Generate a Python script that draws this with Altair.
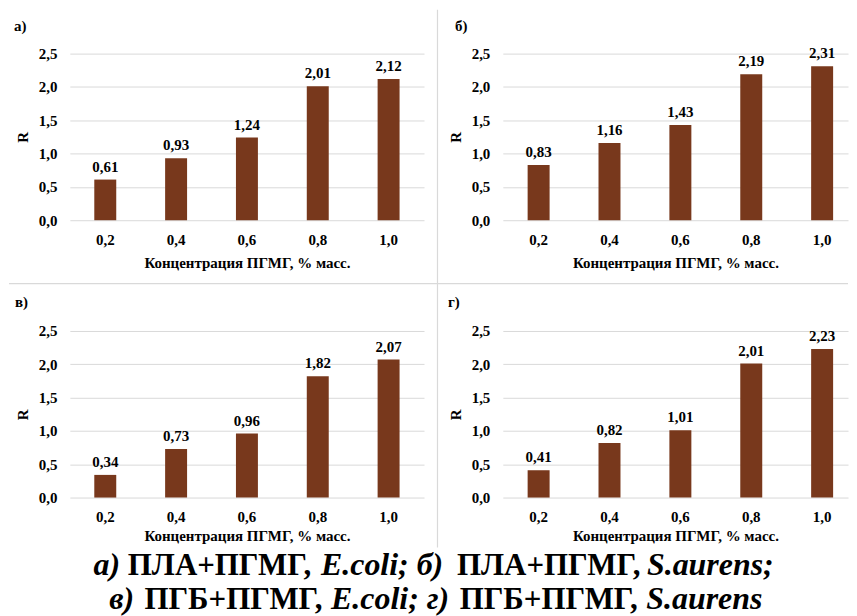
import altair as alt
import pandas as pd

# ---------------- data ----------------
categories = ["0,2", "0,4", "0,6", "0,8", "1,0"]
values_a = [0.61, 0.93, 1.24, 2.01, 2.12]
values_b = [0.83, 1.16, 1.43, 2.19, 2.31]
values_c = [0.34, 0.73, 0.96, 1.82, 2.07]
values_d = [0.41, 0.82, 1.01, 2.01, 2.23]
panel_labels = ["а)", "б)", "в)", "г)"]
x_title = "Концентрация ПГМГ, % масс."
y_title = "R"
y_ticks = [0.0, 0.5, 1.0, 1.5, 2.0, 2.5]

caption_line1 = ["а)", "ПЛА+ПГМГ,", "E.coli; б)", "ПЛА+ПГМГ,", "S.aurens;"]
caption_line2 = ["в)", "ПГБ+ПГМГ,", "E.coli; г)", "ПГБ+ПГМГ,", "S.aurens"]
caption_italic = [True, False, True, False, True]

# ---------------- style / layout ----------------
FONT = "Liberation Serif, Times New Roman, serif"
BAR = "#78381C"
GRID = "#D9D9D9"
H = 167
W_LEFT = 355
W_RIGHT = 346

# caption segment centres (relative to panel "в" plot origin)
cap_x1 = [37, 150, 313, 480, 642]
cap_x2 = [52, 164, 321, 480, 636]
cap_y = [245, 279]


def fmt(v):
    return f"{v:.2f}".replace(".", ",")


def panel(values, label, width, pad_outer, align, label_dx, label_dy, title_y, extras):
    df = pd.DataFrame({"c": categories, "v": values, "t": [fmt(v) for v in values]})
    x = alt.X(
        "c:N",
        sort=categories,
        title=x_title,
        scale=alt.Scale(paddingInner=0.69, paddingOuter=pad_outer, align=align),
        axis=alt.Axis(labelAngle=0, labelPadding=12, grid=False,
                      titleY=title_y, titleBaseline="middle"),
    )
    y = alt.Y(
        "v:Q",
        title=y_title,
        scale=alt.Scale(domain=[0, 2.5], nice=False, zero=True),
        axis=alt.Axis(values=y_ticks, grid=True, labelPadding=13,
                      labelExpr="replace(format(datum.value, '.1f'), '.', ',')",
                      titleX=-47, titleY=H / 2, titleAngle=270,
                      titleBaseline="middle", titleAlign="center"),
    )
    base = alt.Chart(df).encode(x=x, y=y)
    bars = base.mark_bar(color=BAR)
    vals = base.mark_text(dy=-8, baseline="alphabetic", font=FONT, fontWeight="bold",
                          fontSize=15, color="black").encode(text="t:N")
    lab = alt.Chart(pd.DataFrame({"l": [label]})).mark_text(
        align="left", baseline="middle", font=FONT, fontWeight="bold",
        fontSize=15, color="black"
    ).encode(x=alt.value(label_dx), y=alt.value(label_dy), text="l:N")
    layers = [bars, vals, lab] + extras
    return alt.layer(*layers).properties(width=width, height=H)


def rule(x1, x2, y1, y2):
    return alt.Chart(pd.DataFrame({"k": [0]})).mark_rule(
        color=GRID, strokeWidth=1.2
    ).encode(x=alt.value(x1), x2=alt.value(x2), y=alt.value(y1), y2=alt.value(y2))


def caption_segments():
    segs = []
    for line, xs, yy in ((caption_line1, cap_x1, cap_y[0]), (caption_line2, cap_x2, cap_y[1])):
        for txt, ital, xx in zip(line, caption_italic, xs):
            segs.append(
                alt.Chart(pd.DataFrame({"s": [txt]})).mark_text(
                    align="center", baseline="alphabetic", font=FONT, fontWeight="bold",
                    fontStyle="italic" if ital else "normal",
                    fontSize=32 if ital else 31, color="black"
                ).encode(x=alt.value(xx), y=alt.value(yy), text="s:N")
            )
    return segs


pa = panel(values_a, panel_labels[0], W_LEFT, 0.345, 0.5, -56, -28, 42, [])
pb = panel(values_b, panel_labels[1], W_RIGHT, 0.28, 0.625, -48, -28, 42,
           [rule(-65.5, -65.5, -44, 495)])
pc = panel(values_c, panel_labels[2], W_LEFT, 0.345, 0.5, -55, -29, 38,
           [rule(-61, 780, -47.5, -47.5)] + caption_segments())
pd_ = panel(values_d, panel_labels[3], W_RIGHT, 0.28, 0.625, -55, -29, 38, [])

chart = alt.concat(pa, pb, pc, pd_, columns=2, spacing={"row": 111, "column": 79},
                   bounds="flush").properties(
    padding=0, background="white"
).configure_view(stroke=None).configure_axis(
    labelFont=FONT, labelFontSize=15, labelFontWeight="bold", labelColor="black",
    titleFont=FONT, titleFontSize=15, titleFontWeight="bold", titleColor="black",
    gridColor=GRID, gridWidth=1, domain=False, ticks=False, tickSize=0,
)

chart.save("out.html", embed_options={"renderer": "svg", "actions": False})
